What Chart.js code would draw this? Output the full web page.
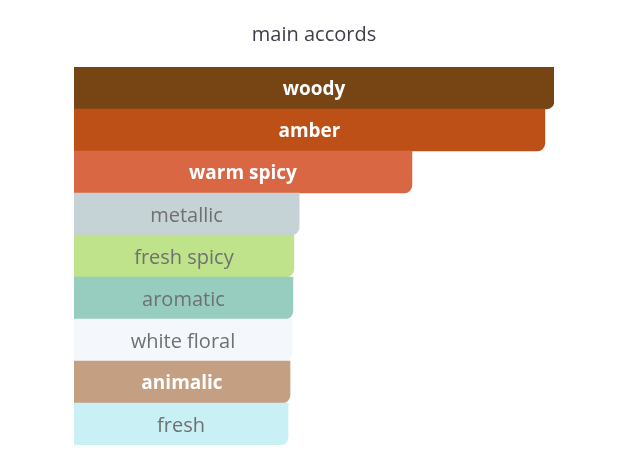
<!DOCTYPE html>
<html>
<head>
<meta charset="utf-8">
<script src="https://cdn.jsdelivr.net/npm/chart.js@4/dist/chart.umd.min.js"></script>
<style>
  html, body { margin: 0; padding: 0; background: #fff; }
  #wrap { width: 627px; height: 466px; }
</style>
</head>
<body>
<div id="wrap"><canvas id="accords"></canvas></div>
<script>
// accords, top to bottom
const accords = ["woody", "amber", "warm spicy", "metallic", "fresh spicy", "aromatic", "white floral", "animalic", "fresh"];
// bar length, % of the strongest accord
const strength = [100, 98.1, 70.4, 46.9, 45.8, 45.6, 45.4, 45, 44.6];
const barColors = ["#774414", "#bd5016", "#da6744", "#c5d2d6", "#bee38b", "#96cdbf", "#f4f8fd", "#c49f82", "#c9f0f5"];
const textColors = ["#ffffff", "#ffffff", "#ffffff", "#707070", "#707070", "#707070", "#707070", "#ffffff", "#707070"];

// write the accord name in the middle of each bar
const barLabels = {
  id: "barLabels",
  afterDatasetsDraw(chart) {
    const ctx = chart.ctx;
    const meta = chart.getDatasetMeta(0);
    ctx.save();
    ctx.textAlign = "center";
    ctx.textBaseline = "middle";
    meta.data.forEach((bar, i) => {
      const white = textColors[i] == "#ffffff";
      ctx.font = white ? "bold 19px 'Open Sans'" : "20px 'Open Sans'";
      ctx.fillStyle = textColors[i];
      ctx.fillText(accords[i], (bar.x + bar.base) / 2, bar.y + 2);
    });
    ctx.restore();
  },
};

const ctx = document.getElementById("accords").getContext("2d");
new Chart(ctx, {
  type: "bar",
  data: {
    labels: accords,
    datasets: [
      {
        label: "main accords",
        data: strength,
        backgroundColor: barColors,
        borderRadius: { topLeft: 0, bottomLeft: 0, topRight: 0, bottomRight: 8 },
        borderSkipped: false,
        barPercentage: 1,
        categoryPercentage: 1,
      },
    ],
  },
  options: {
    indexAxis: "y",
    responsive: true,
    maintainAspectRatio: false,
    animation: false,
    layout: { padding: { left: 74, right: 73, top: 0, bottom: 21 } },
    scales: {
      x: { display: false, min: 0, max: 100 },
      y: { display: false },
    },
    plugins: {
      legend: { display: false },
      tooltip: { enabled: false },
      title: {
        display: true,
        text: "main accords",
        color: "#3d3d4b",
        font: { family: "'Open Sans'", size: 20, weight: "normal" },
        padding: { top: 23, bottom: 20 },
      },
    },
  },
  plugins: [barLabels],
});
</script>
</body>
</html>
